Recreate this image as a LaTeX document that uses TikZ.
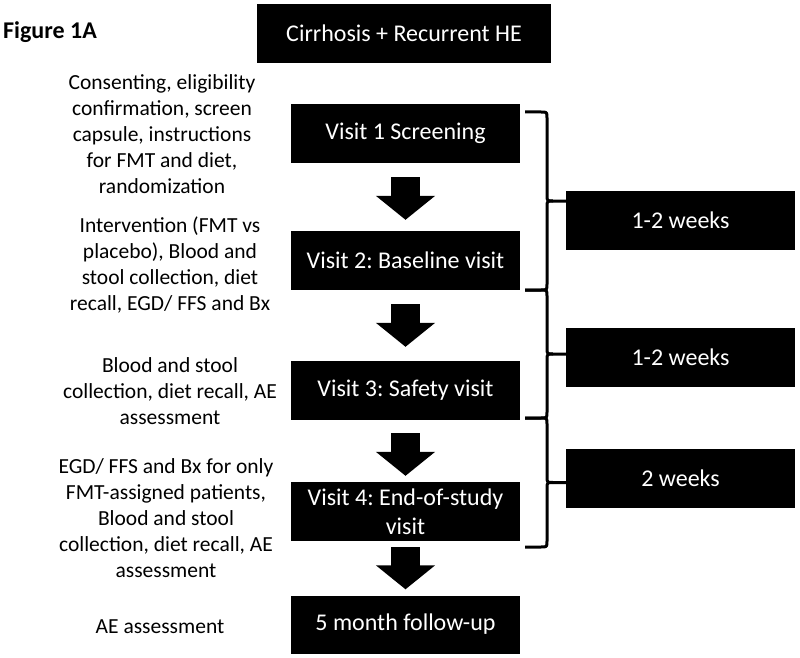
\documentclass[tikz,border=0pt]{standalone}
\usepackage{fontspec}
\setmainfont{Carlito}
\usepackage{tikz}
\usetikzlibrary{
	arrows.meta, calc
}
\frenchspacing

\begin{document}
\begin{tikzpicture}[
		x=1pt, y=-1pt,
		visit box/.style={
			rectangle, fill=black, text=white, inner sep=0pt,
			minimum width=229pt, minimum height=59pt, align=center,
			font=\fontsize{24}{29}\selectfont
		},
		side note/.style={
			align=center, inner sep=0pt,
			font=\fontsize{21.5}{26}\selectfont
		},
		flow arrow/.style={
			line width=29pt, -{Triangle[width=58pt, length=24pt]}
		},
		week brace/.style={
			line width=3pt, line join=round
		},
	]
		\useasboundingbox (0, 0) rectangle (800, 658);

		\node[anchor = west, inner sep = 0pt, font = \fontsize{24}{29}\selectfont\bfseries] (fig) at (3, 32) {Figure 1A};

		\node[visit box, minimum width = 294pt] (cirr) at (404, 33.5) {Cirrhosis + Recurrent HE};
		\node[visit box] (v1) at (405.5, 133.5) {Visit 1 Screening};
		\node[visit box] (v2) at (405.5, 260.5) {Visit 2: Baseline visit};
		\node[visit box] (v3) at (405.5, 390.5) {Visit 3: Safety visit};
		\node[visit box] (v4) at (405.5, 511.5) {Visit 4: End-of-study\\visit};
		\node[visit box, minimum height = 58pt] (fu) at (405.5, 624.5) {5 month follow-up};

		\node[visit box] (w1) at (680.5, 220.5) {1-2 weeks};
		\node[visit box] (w2) at (680.5, 357.5) {1-2 weeks};
		\node[visit box] (w3) at (680.5, 478.5) {2 weeks};

		\node[side note] (note1) at (162, 134) {Consenting, eligibility\\confirmation, screen\\capsule, instructions\\for FMT and diet,\\randomization};
		\node[side note] (note2) at (170, 265) {Intervention (FMT vs\\placebo), Blood and\\stool collection, diet\\recall, EGD/ FFS and Bx};
		\node[side note] (note3) at (170, 391) {Blood and stool\\collection, diet recall, AE\\assessment};
		\node[side note] (note4) at (166, 518) {EGD/ FFS and Bx for only\\FMT-assigned patients,\\Blood and stool\\collection, diet recall, AE\\assessment};
		\node[side note] (note5) at (160, 627) {AE assessment};

		\draw[flow arrow, shorten <= 14pt, shorten >= 11pt] (v1) -- (v2);
		\draw[flow arrow, shorten <= 14pt, shorten >= 14pt] (v2) -- (v3);
		\draw[flow arrow, shorten <= 13pt, shorten >= 6pt] (v3) -- (v4);
		\draw[flow arrow, shorten <= 6pt, shorten >= 6pt] (v4) -- (fu);

		% brace ends
		\coordinate (c0) at (525, 112);
		\coordinate (c1) at (525, 290);
		\coordinate (c2) at (525, 418);
		\coordinate (c3) at (525, 547);

		\foreach \i/\j in {0/1, 1/2, 2/3} {
			\coordinate (m) at ($(c\i)!0.5!(c\j)$);
			\draw[week brace] (c\i) -- ($(c\i)+(16,0)$) .. controls ($(c\i)+(22,0)$) .. ($(c\i)+(22,6)$)
				-- ($(m)+(22,-6)$) .. controls ($(m)+(22,0)$) .. ($(m)+(28,0)$) -- (m -| w\j.west);
			\draw[week brace] ($(m)+(28,0)$) .. controls ($(m)+(22,0)$) .. ($(m)+(22,6)$)
				-- ($(c\j)+(22,-6)$) .. controls ($(c\j)+(22,0)$) .. ($(c\j)+(16,0)$) -- (c\j);
		}
	\end{tikzpicture}
\end{document}
